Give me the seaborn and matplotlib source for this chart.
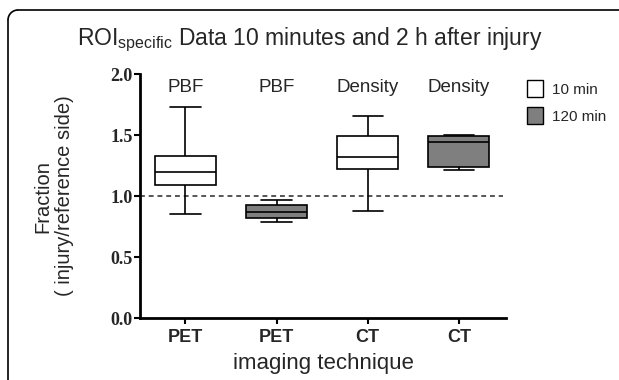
import matplotlib
matplotlib.use('Agg')
import matplotlib.pyplot as plt
import matplotlib.patches as mpatches
from matplotlib.lines import Line2D
import pandas as pd
import seaborn as sns

# five-number summaries: min, Q1, median, Q3, max
groups = ['PBF_10', 'PBF_120', 'Density_10', 'Density_120']
techniques = ['PET', 'PET', 'CT', 'CT']
measures = ['PBF', 'PBF', 'Density', 'Density']
times = ['10 min', '120 min', '10 min', '120 min']
pbf_10 = [0.85, 1.09, 1.20, 1.33, 1.73]
pbf_120 = [0.79, 0.82, 0.87, 0.93, 0.97]
density_10 = [0.88, 1.22, 1.32, 1.49, 1.66]
density_120 = [1.21, 1.235, 1.44, 1.49, 1.50]
colors = {'10 min': 'white', '120 min': '#7f7f7f'}

rows = []
for g, t, vals in zip(groups, times, [pbf_10, pbf_120, density_10, density_120]):
    for v in vals:
        rows.append({'group': g, 'time': t, 'fraction': v})
df = pd.DataFrame(rows)

sns.set_style('white')
plt.rcParams['font.family'] = ['Liberation Sans', 'DejaVu Sans']

fig = plt.figure(figsize=(6.19, 3.80), dpi=100)
ax = fig.add_axes([0.226, 0.163, 0.592, 0.642])

sns.boxplot(data=df, x='group', y='fraction', hue='time', order=groups,
            palette=colors, dodge=False, width=0.67, whis=(0, 100),
            linewidth=1.2, linecolor='black', ax=ax, legend=False)

ax.axhline(1.0, color='#555555', linestyle=(0, (2.5, 2)), linewidth=1.4,
           xmin=0, xmax=0.99, zorder=0)

ax.set_xlim(-0.5, 3.52)
ax.set_ylim(0, 2.0)
ax.set_yticks([0.0, 0.5, 1.0, 1.5, 2.0])
ax.set_yticklabels(['0.0', '0.5', '1.0', '1.5', '2.0'],
                   family='Liberation Serif', fontweight='bold', fontsize=13)
ax.set_xticks(range(4))
ax.set_xticklabels(techniques, fontsize=13, fontweight='bold')
for s in ['top', 'right']:
    ax.spines[s].set_visible(False)
for s in ['left', 'bottom']:
    ax.spines[s].set_linewidth(2)
    ax.spines[s].set_color('black')
ax.tick_params(axis='both', direction='out', length=4, width=1.5,
               color='black', left=True, bottom=True, pad=1)
ax.tick_params(axis='x', pad=4)

for i, m in enumerate(measures):
    ax.text(i, 1.89, m, ha='center', va='center', fontsize=13.5)

ax.set_xlabel('imaging technique', fontsize=16, labelpad=5)
ax.set_ylabel('Fraction\n( injury/reference side)', fontsize=14.5, labelpad=26)

handles = [mpatches.Patch(facecolor=colors[t], edgecolor='black',
                          linewidth=1.0, label=t)
           for t in ['10 min', '120 min']]
fig.legend(handles=handles, loc='upper left', bbox_to_anchor=(0.829, 0.826),
           frameon=False, fontsize=11, handlelength=1.05, handleheight=1.35,
           handletextpad=0.6, labelspacing=0.65)

fig.text(0.50, 0.895, r'ROI$_{\mathregular{specific}}$ Data 10 minutes and 2 h after injury',
         ha='center', va='center', fontsize=16.5)

# rounded panel border (top-left corner only, other edges run off the image)
r = 10
x0, y0 = 8, 380 - 10
fig.add_artist(Line2D([x0 / 619, x0 / 619], [0, (y0 - r) / 380],
                      transform=fig.transFigure, color='black', linewidth=1.2))
fig.add_artist(Line2D([(x0 + r) / 619, 1], [y0 / 380, y0 / 380],
                      transform=fig.transFigure, color='black', linewidth=1.2))
fig.add_artist(mpatches.Arc(((x0 + r) / 619, (y0 - r) / 380), 2 * r / 619,
                            2 * r / 380, theta1=90, theta2=180,
                            transform=fig.transFigure, color='black',
                            linewidth=1.2))

fig.savefig('out.png', dpi=100)
